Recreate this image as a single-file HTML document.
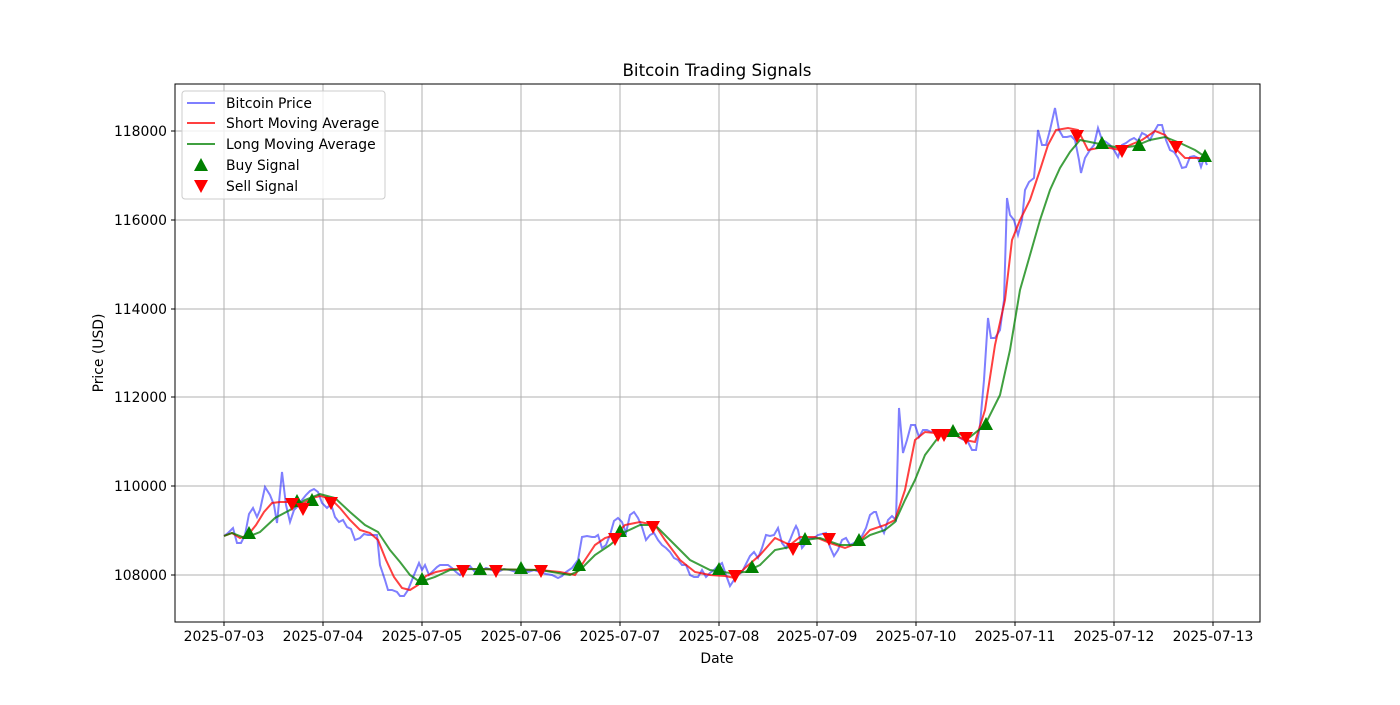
<!DOCTYPE html>
<html><head><meta charset="utf-8"><style>
html,body{margin:0;padding:0;background:#fff;}
svg text{font-family:"DejaVu Sans","Liberation Sans",sans-serif;fill:#000;}
</style></head><body>
<svg width="1400" height="700" viewBox="0 0 1400 700" xmlns="http://www.w3.org/2000/svg">
<defs>
<path id="up" d="M0,-8 L7,5 L-7,5 Z" fill="green"/>
<path id="dn" d="M0,8 L7,-5 L-7,-5 Z" fill="red"/>
</defs>
<g stroke="#b0b0b0" stroke-width="1">
<line x1="224" y1="84" x2="224" y2="622"/><line x1="323" y1="84" x2="323" y2="622"/><line x1="422" y1="84" x2="422" y2="622"/><line x1="521" y1="84" x2="521" y2="622"/><line x1="620" y1="84" x2="620" y2="622"/><line x1="719" y1="84" x2="719" y2="622"/><line x1="817" y1="84" x2="817" y2="622"/><line x1="916" y1="84" x2="916" y2="622"/><line x1="1015" y1="84" x2="1015" y2="622"/><line x1="1114" y1="84" x2="1114" y2="622"/><line x1="1213" y1="84" x2="1213" y2="622"/>
<line x1="175" y1="575" x2="1260" y2="575"/><line x1="175" y1="486" x2="1260" y2="486"/><line x1="175" y1="397" x2="1260" y2="397"/><line x1="175" y1="309" x2="1260" y2="309"/><line x1="175" y1="220" x2="1260" y2="220"/><line x1="175" y1="131" x2="1260" y2="131"/>
</g>
<polyline fill="none" stroke="#0000ff" stroke-opacity="0.5" stroke-width="2" points="224,536 228,533 233,528 237,543 241,543 245,535 249,514 253,508 257,517 260,510 265,487 270,495 274,505 277,523 282,472 286,505 290,522 294,510 298,506 302,500 306,495 310,491 314,489 318,492 322,503 327,508 331,504 335,517 339,522 343,520 347,527 351,529 355,540 360,538 364,534 368,535 373,535 377,535 380,565 385,580 388,590 392,590 397,592 400,596 404,596 408,590 414,575 419,563 422,570 425,565 429,575 433,571 437,567 440,565 444,565 448,565 452,568 456,572 460,575 465,570 470,566 475,572 480,572 486,568 492,570 498,572 504,569 510,570 516,572 522,566 528,572 534,570 540,572 546,574 552,575 558,578 562,576 566,572 572,568 578,560 582,537 587,536 592,537 595,537 598,535 602,548 606,545 610,535 614,521 618,518 622,522 626,533 630,515 634,512 638,518 642,527 646,540 650,535 654,533 658,540 662,545 666,548 670,552 674,558 678,560 682,565 686,565 690,575 694,577 698,577 702,570 706,577 710,573 714,570 718,566 722,563 726,575 730,586 734,580 738,575 742,572 746,564 750,556 754,552 758,558 762,548 766,535 770,536 774,535 778,528 782,543 786,548 790,540 794,530 796,526 798,530 802,548 806,543 810,538 814,538 818,535 822,534 826,533 830,547 834,556 838,550 842,540 846,538 850,545 854,543 858,540 862,536 866,528 870,515 874,512 876,512 880,525 884,533 888,520 892,516 896,520 899,408 903,453 907,440 911,425 915,425 919,437 923,430 927,430 931,432 935,430 939,431 944,433 948,433 952,430 956,435 960,438 964,440 968,442 972,450 976,450 980,425 984,380 988,318 991,338 995,338 1000,330 1004,300 1007,198 1010,215 1014,220 1018,235 1022,220 1025,190 1029,182 1034,178 1038,130 1042,145 1046,145 1050,130 1055,108 1059,130 1063,137 1067,137 1071,136 1075,140 1079,160 1081,173 1085,158 1090,150 1094,145 1098,128 1102,140 1106,142 1110,145 1114,150 1118,157 1122,145 1126,143 1130,140 1134,138 1138,141 1142,133 1146,135 1150,140 1154,132 1158,125 1162,125 1166,140 1170,150 1174,152 1178,158 1182,168 1186,167 1190,157 1194,156 1198,158 1201,167 1204,158 1207,165"/>
<polyline fill="none" stroke="#ff0000" stroke-opacity="0.75" stroke-width="2" points="224,536 232,533 240,538 248,535 256,525 264,512 272,503 280,502 288,502 296,504 304,503 312,498 320,496 330,498 340,508 350,520 360,530 370,533 378,540 386,560 394,577 402,588 410,590 418,585 426,576 436,572 450,569 470,569 540,570 560,572 575,575 585,560 595,545 605,538 615,535 625,525 640,522 655,525 665,540 680,560 695,572 710,575 725,576 735,578 745,568 760,555 775,538 790,545 800,537 815,537 830,543 845,548 858,543 870,530 885,525 895,520 905,490 915,440 925,432 935,433 945,432 955,435 965,440 975,442 985,410 995,345 1005,300 1012,240 1020,220 1030,200 1040,170 1048,145 1056,130 1068,128 1078,130 1088,150 1098,148 1110,148 1120,150 1130,145 1142,140 1155,131 1165,135 1175,148 1185,158 1195,158 1207,158"/>
<polyline fill="none" stroke="#008000" stroke-opacity="0.75" stroke-width="2" points="224,536 232,533 245,538 260,532 275,518 290,510 305,500 320,494 335,498 350,512 365,525 378,532 390,550 400,562 410,575 420,582 435,577 450,570 470,569 540,570 570,575 580,570 595,555 610,545 625,532 640,525 655,525 670,540 690,560 710,570 730,573 745,572 760,565 775,550 790,547 805,540 820,538 840,545 855,545 870,535 885,530 895,522 905,500 915,480 925,455 940,435 955,433 970,437 985,425 1000,395 1010,350 1020,290 1030,255 1040,220 1050,190 1060,168 1070,152 1080,140 1090,142 1105,145 1120,148 1135,146 1150,140 1165,137 1180,143 1195,150 1207,158"/>
<g>
<use href="#up" x="249" y="534"/><use href="#up" x="297" y="502"/><use href="#up" x="312" y="501"/><use href="#up" x="422" y="580"/><use href="#up" x="480" y="570"/><use href="#up" x="521" y="569"/><use href="#up" x="579" y="566"/><use href="#up" x="620" y="532"/><use href="#up" x="719" y="570"/><use href="#up" x="752" y="568"/><use href="#up" x="805" y="540"/><use href="#up" x="859" y="541"/><use href="#up" x="953" y="432"/><use href="#up" x="986" y="425"/><use href="#up" x="1102" y="144"/><use href="#up" x="1139" y="146"/><use href="#up" x="1205" y="157"/>
<use href="#dn" x="292" y="503"/><use href="#dn" x="303" y="508"/><use href="#dn" x="331" y="502"/><use href="#dn" x="463" y="570"/><use href="#dn" x="496" y="570"/><use href="#dn" x="541" y="570"/><use href="#dn" x="615" y="538"/><use href="#dn" x="653" y="526"/><use href="#dn" x="735" y="575"/><use href="#dn" x="793" y="548"/><use href="#dn" x="829" y="538"/><use href="#dn" x="938" y="434"/><use href="#dn" x="944" y="434"/><use href="#dn" x="966" y="437"/><use href="#dn" x="1077" y="135"/><use href="#dn" x="1122" y="150"/><use href="#dn" x="1176" y="146"/>
</g>
<rect x="175" y="84" width="1085" height="538" fill="none" stroke="#000" stroke-width="1"/>
<g stroke="#000"><line x1="224" y1="622" x2="224" y2="626"/><line x1="323" y1="622" x2="323" y2="626"/><line x1="422" y1="622" x2="422" y2="626"/><line x1="521" y1="622" x2="521" y2="626"/><line x1="620" y1="622" x2="620" y2="626"/><line x1="719" y1="622" x2="719" y2="626"/><line x1="817" y1="622" x2="817" y2="626"/><line x1="916" y1="622" x2="916" y2="626"/><line x1="1015" y1="622" x2="1015" y2="626"/><line x1="1114" y1="622" x2="1114" y2="626"/><line x1="1213" y1="622" x2="1213" y2="626"/>
<line x1="171" y1="575" x2="175" y2="575"/><line x1="171" y1="486" x2="175" y2="486"/><line x1="171" y1="397" x2="175" y2="397"/><line x1="171" y1="309" x2="175" y2="309"/><line x1="171" y1="220" x2="175" y2="220"/><line x1="171" y1="131" x2="175" y2="131"/></g>
<g font-size="13.9" text-anchor="middle">
<text x="224" y="641">2025-07-03</text><text x="323" y="641">2025-07-04</text><text x="422" y="641">2025-07-05</text><text x="521" y="641">2025-07-06</text><text x="620" y="641">2025-07-07</text><text x="719" y="641">2025-07-08</text><text x="817" y="641">2025-07-09</text><text x="916" y="641">2025-07-10</text><text x="1015" y="641">2025-07-11</text><text x="1114" y="641">2025-07-12</text><text x="1213" y="641">2025-07-13</text>
<text x="717" y="663">Date</text>
</g>
<g font-size="13.9" text-anchor="end">
<text x="167" y="580">108000</text><text x="167" y="491">110000</text><text x="167" y="402">112000</text><text x="167" y="314">114000</text><text x="167" y="225">116000</text><text x="167" y="136">118000</text>
</g>
<text x="103" y="353" font-size="13.9" text-anchor="middle" transform="rotate(-90 103 353)">Price (USD)</text>
<text x="717" y="76" font-size="16.7" text-anchor="middle">Bitcoin Trading Signals</text>
<rect x="182" y="91" width="203" height="108" rx="3" fill="#fff" fill-opacity="0.8" stroke="#ccc"/>
<line x1="187" y1="103" x2="215" y2="103" stroke="#0000ff" stroke-opacity="0.5" stroke-width="2"/>
<line x1="187" y1="123" x2="215" y2="123" stroke="#ff0000" stroke-opacity="0.75" stroke-width="2"/>
<line x1="187" y1="144" x2="215" y2="144" stroke="#008000" stroke-opacity="0.75" stroke-width="2"/>
<use href="#up" x="201" y="166"/><use href="#dn" x="201" y="185"/>
<g font-size="13.9"><text x="226" y="108">Bitcoin Price</text><text x="226" y="128">Short Moving Average</text><text x="226" y="149">Long Moving Average</text><text x="226" y="170">Buy Signal</text><text x="226" y="191">Sell Signal</text></g>
</svg>
</body></html>
